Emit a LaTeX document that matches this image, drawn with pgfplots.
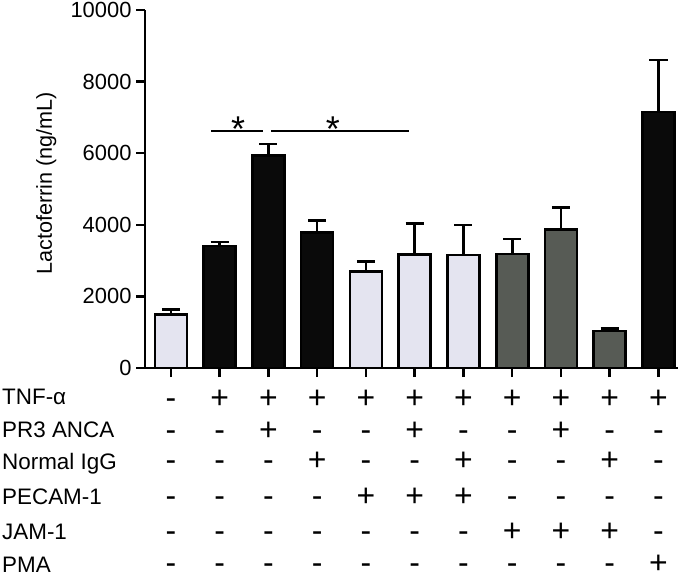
\documentclass[border=0pt]{standalone}
\usepackage{pgfplots}
\pgfplotsset{compat=1.18}
\usepackage{fontspec}
\setmainfont{Liberation Sans}
\definecolor{lav}{HTML}{E4E4F0}
\definecolor{dgray}{HTML}{575B55}
\definecolor{blk}{HTML}{0A0A0A}
\newcommand\tf{\fontsize{22.5}{24}\selectfont}
\newcommand\symf{\fontsize{32}{33}\selectfont}
\newcommand\rA[1]{\ifcase#1 -\else +\fi}
\newcommand\rB[1]{\ifcase#1 -\or -\or +\or -\or -\or +\or -\or -\or +\or -\or -\fi}
\newcommand\rC[1]{\ifcase#1 -\or -\or -\or +\or -\or -\or +\or -\or -\or +\or -\fi}
\newcommand\rD[1]{\ifcase#1 -\or -\or -\or -\or +\or +\or +\or -\or -\or -\or -\fi}
\newcommand\rE[1]{\ifcase#1 -\or -\or -\or -\or -\or -\or -\or +\or +\or +\or -\fi}
\newcommand\rF[1]{\ifcase#1 -\or -\or -\or -\or -\or -\or -\or -\or -\or -\or +\fi}
\pgfplotsset{
  mybar/.style={ybar, bar width=32bp, bar shift=0pt, draw=black, line width=2.6bp, fill=#1,
    error bars/y dir=plus, error bars/y explicit,
    error bars/error bar style={line width=2.6bp, black},
    error bars/error mark options={rotate=90, line width=2.6bp, mark size=9bp, black}},
}
\begin{document}
\begin{tikzpicture}
\begin{axis}[
  width=533bp, height=358bp, scale only axis,
  xmin=-0.53, xmax=10.4, ymin=0, ymax=10000,
  axis lines*=left,
  axis line style={line width=2.8bp, -},
  tick style={line width=2.5bp, black},
  major tick length=9bp, tick align=outside,
  xtick={0,...,10}, xticklabels=\empty,
  ytick={0,2000,...,10000},
  scaled y ticks=false,
  /pgf/number format/assume math mode=true,
  /pgf/number format/1000 sep={},
  yticklabel style={font=\fontsize{22}{22}\selectfont, xshift=-1bp},
  clip=false,
]
\addplot[mybar=lav] coordinates {(0,1500) +- (0,140) (4,2690) +- (0,280) (5,3165) +- (0,865) (6,3156) +- (0,840)};
\addplot[mybar=blk] coordinates {(1,3410) +- (0,110) (2,5930) +- (0,330) (3,3790) +- (0,325) (10,7150) +- (0,1450)};
\addplot[mybar=dgray] coordinates {(7,3184) +- (0,416) (8,3870) +- (0,620) (9,1033) +- (0,77)};
\addplot[line width=2.8bp, black] coordinates {(0.83,6620) (1.885,6620)};
\addplot[line width=2.8bp, black] coordinates {(2.055,6620) (4.89,6620)};
\node[anchor=base, font=\fontsize{36}{36}\selectfont] at (axis cs:1.38,6330) {*};
\node[anchor=base, font=\fontsize{36}{36}\selectfont] at (axis cs:3.32,6330) {*};
\pgfplotsinvokeforeach{0,...,10}{
  \node[anchor=base, font=\symf, inner sep=0pt, yshift=-40bp] at (axis cs:#1,0) {\rA{#1}};
  \node[anchor=base, font=\symf, inner sep=0pt, yshift=-72bp] at (axis cs:#1,0) {\rB{#1}};
  \node[anchor=base, font=\symf, inner sep=0pt, yshift=-102.7bp] at (axis cs:#1,0) {\rC{#1}};
  \node[anchor=base, font=\symf, inner sep=0pt, yshift=-138.7bp] at (axis cs:#1,0) {\rD{#1}};
  \node[anchor=base, font=\symf, inner sep=0pt, yshift=-173.7bp] at (axis cs:#1,0) {\rE{#1}};
  \node[anchor=base, font=\symf, inner sep=0pt, yshift=-205bp] at (axis cs:#1,0) {\rF{#1}};
}
\end{axis}
\node[anchor=base west, font=\tf, inner sep=0pt] at (-143bp,-36.7bp) {TNF-α};
\node[anchor=base west, font=\tf, inner sep=0pt] at (-143bp,-69bp) {PR3 ANCA};
\node[anchor=base west, font=\tf, inner sep=0pt] at (-143bp,-101bp) {Normal IgG};
\node[anchor=base west, font=\tf, inner sep=0pt] at (-143bp,-136.7bp) {PECAM-1};
\node[anchor=base west, font=\tf, inner sep=0pt] at (-143bp,-171.7bp) {JAM-1};
\node[anchor=base west, font=\tf, inner sep=0pt] at (-143bp,-204bp) {PMA};
\node[rotate=90, anchor=base, inner sep=0pt, font=\fontsize{21.7}{22}\selectfont] at (-93bp,184.5bp) {Lactoferrin (ng/mL)};
\pgfresetboundingbox
\path (-145bp,-212bp) rectangle (540bp,368bp);
\end{tikzpicture}
\end{document}
